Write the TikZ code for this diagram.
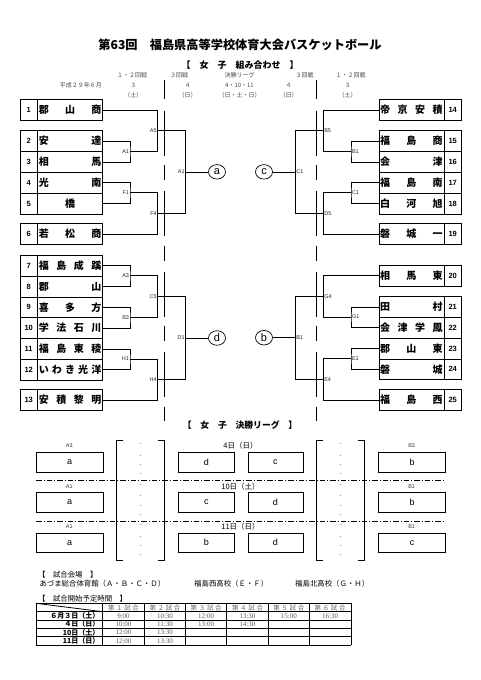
\documentclass[tikz,border=0pt]{standalone}
\usepackage{fontspec}
\newfontfamily\jp{Noto Sans CJK JP}
\newfontfamily\lat{Liberation Sans}
\newfontfamily\latser{Liberation Serif}
\usetikzlibrary{shapes.geometric}
\tikzset{
  ln/.style={line width=0.7pt},
  numcell/.style={draw, line width=0.7pt, anchor=north west, minimum width=16.7pt, minimum height=20.8pt, inner sep=0pt, font=\lat\bfseries\fontsize{7.5}{8}\selectfont},
  namecell/.style={draw, line width=0.7pt, anchor=north west, minimum width=65.3pt, minimum height=20.8pt, inner sep=0pt, font=\jp\bfseries\fontsize{10}{10}\selectfont},
  jl/.style={font=\lat\fontsize{5.5}{6}\selectfont, inner sep=0.8pt, text=black!85},
  circ/.style={ellipse, draw, line width=0.7pt, minimum width=17pt, minimum height=14.5pt, inner sep=0pt, font=\lat\fontsize{11}{11}\selectfont},
  hdr/.style={font=\jp\fontsize{6}{6}\selectfont, text=black!70, inner sep=0pt},
  lbox/.style={draw, line width=0.7pt, anchor=north west, minimum height=19.5pt, inner sep=0pt, font=\lat\fontsize{9}{9}\selectfont},
  llab/.style={font=\lat\fontsize{5.5}{6}\selectfont, text=black!80, inner sep=0pt},
  dlab/.style={font=\jp\fontsize{7.5}{8}\selectfont, inner sep=0pt},
  dsh/.style={font=\lat\fontsize{6}{6}\selectfont, text=black!75, inner sep=0pt},
  sepline/.style={line width=0.7pt, dash pattern=on 45pt off 9.5pt on 15pt off 11pt},
  ddline/.style={line width=0.7pt, dash pattern=on 5.5pt off 2pt on 1pt off 2pt},
  vt/.style={font=\jp\fontsize{7.4}{8}\selectfont, anchor=west, inner sep=0pt},
  th/.style={font=\jp\fontsize{6.5}{7}\selectfont, text=black!60, inner sep=0pt},
  td/.style={font=\latser\fontsize{7}{7}\selectfont, text=black!65, inner sep=0pt},
  trow/.style={font=\jp\bfseries\fontsize{7}{7}\selectfont, anchor=east, inner sep=0pt},
  tl/.style={line width=0.8pt},
}
\newcommand\teamL[4]{%
  \node[numcell] (n#1) at (20,#2) {#3};
  \node[namecell] (t#1) at (36.7,#2) {\hspace*{0.8pt}\makebox[62.5pt][s]{#4}};
}
\newcommand\teamR[4]{%
  \node[namecell] (t#1) at (378.7,#2) {\makebox[62.5pt][s]{#4}\hspace*{0.8pt}};
  \node[numcell] (n#1) at (444,#2) {#3};
}
\begin{document}
\begin{tikzpicture}[x=1pt,y=-1pt]
\fill[white] (0,0) rectangle (481,680);
\useasboundingbox (0,0) rectangle (481,680);

% ---------- titles ----------
\node[font=\jp\bfseries\fontsize{12.2}{12.5}\selectfont, inner sep=0pt] (title) at (240,44.5) {第63回　福島県高等学校体育大会バスケットボール};
\node[font=\jp\bfseries\fontsize{9}{9}\selectfont, inner sep=0pt] (sub1) at (240,65.3) {【　女　子　組み合わせ　】};

% ---------- header labels ----------
\node[hdr] (h0) at (80.8,85.3) {平成２９年６月};
\node[hdr] (h1a) at (132,75.3) {１・２回戦};
\node[hdr] (h1b) at (133.3,85.3) {３};
\node[hdr] (h1c) at (133.3,95.3) {（土）};
\node[hdr] (h2a) at (179.2,75.3) {３回戦};
\node[hdr] (h2b) at (187.5,85.3) {４};
\node[hdr] (h2c) at (187.5,95.3) {（日）};
\node[hdr] (h3a) at (239.5,75.3) {決勝リーグ};
\node[hdr] (h3b) at (239.5,85.3) {4・10・11};
\node[hdr] (h3c) at (239.5,95.3) {（日・土・日）};
\node[hdr] (h4a) at (304.5,75.3) {３回戦};
\node[hdr] (h4b) at (288.5,85.3) {４};
\node[hdr] (h4c) at (288.5,95.3) {（日）};
\node[hdr] (h5a) at (350.5,75.3) {１・２回戦};
\node[hdr] (h5b) at (347.5,85.3) {３};
\node[hdr] (h5c) at (347.5,95.3) {（土）};

% separators
\draw[ln] (164.3,80.3) -- (164.3,98.7);
\draw[ln] (316.7,80.3) -- (316.7,98.7);
\draw[sepline] (164.3,110.7) -- (164.3,421);
\draw[sepline] (316.7,110.7) -- (316.7,421);

% ---------- teams ----------
\teamL{1}{99.2}{1}{郡\hfill 山\hfill 商}
\teamL{2}{130.4}{2}{安\hfill 達}
\teamL{3}{151.2}{3}{相\hfill 馬}
\teamL{4}{172}{4}{光\hfill 南}
\teamL{5}{192.8}{5}{\hfill 橋\hfill}
\teamL{6}{223.4}{6}{若\hfill 松\hfill 商}
\teamL{7}{255}{7}{福\hfill 島\hfill 成\hfill 蹊}
\teamL{8}{275.8}{8}{郡\hfill 山}
\teamL{9}{296.6}{9}{喜\hfill 多\hfill 方}
\teamL{10}{317.4}{10}{学\hfill 法\hfill 石\hfill 川}
\teamL{11}{338.2}{11}{福\hfill 島\hfill 東\hfill 稜}
\teamL{12}{359}{12}{い\hfill わ\hfill き\hfill 光\hfill 洋}
\teamL{13}{389.4}{13}{安\hfill 積\hfill 黎\hfill 明}

\teamR{14}{99.2}{14}{帝\hfill 京\hfill 安\hfill 積}
\teamR{15}{130.4}{15}{福\hfill 島\hfill 商}
\teamR{16}{151.2}{16}{会\hfill 津}
\teamR{17}{172}{17}{福\hfill 島\hfill 南}
\teamR{18}{192.8}{18}{白\hfill 河\hfill 旭}
\teamR{19}{223.4}{19}{磐\hfill 城\hfill 一}
\teamR{20}{265}{20}{相\hfill 馬\hfill 東}
\teamR{21}{296.2}{21}{田\hfill 村}
\teamR{22}{317}{22}{会\hfill 津\hfill 学\hfill 鳳}
\teamR{23}{337.8}{23}{郡\hfill 山\hfill 東}
\teamR{24}{358.6}{24}{磐\hfill 城}
\teamR{25}{389.4}{25}{福\hfill 島\hfill 西}

% ---------- left top bracket ----------
\coordinate (jA1) at (130,151.2);
\coordinate (jF1) at (130,192.8);
\coordinate (jA5) at (157.7,130.4);
\coordinate (jF4) at (157.7,213.3);
\coordinate (jA1c) at (185.7,171.85);
\draw[ln] (t2.east) -| (jA1) |- (t3.east);
\draw[ln] (t4.east) -| (jF1) |- (t5.east);
\draw[ln] (t1.east) -| (jA5) |- (jA1);
\draw[ln] (jF1) -| (jF4) |- (t6.east);
\draw[ln] (jA5) -| (jA1c) |- (jF4);
\node[circ] (ca) at (217,171.85) {a};
\draw[ln] (jA1c) -- (ca);
\node[jl, anchor=east] at (jA1) {A1};
\node[jl, anchor=east] at (jF1) {F1};
\node[jl, anchor=east] at (jA5) {A5};
\node[jl, anchor=east] at (jF4) {F4};
\node[jl, anchor=east] at (jA1c) {A1};

% ---------- left bottom bracket ----------
\coordinate (jA3) at (130,275.8);
\coordinate (jB3) at (130,317.4);
\coordinate (jH1) at (130,359);
\coordinate (jC5) at (157.7,296.6);
\coordinate (jH4) at (157.7,379.4);
\coordinate (jD1) at (185.7,338);
\draw[ln] (t7.east) -| (jA3) |- (t8.east);
\draw[ln] (t9.east) -| (jB3) |- (t10.east);
\draw[ln] (t11.east) -| (jH1) |- (t12.east);
\draw[ln] (jA3) -| (jC5) |- (jB3);
\draw[ln] (jH1) -| (jH4) |- (t13.east);
\draw[ln] (jC5) -| (jD1) |- (jH4);
\node[circ] (cd) at (217,338) {d};
\draw[ln] (jD1) -- (cd);
\node[jl, anchor=east] at (jA3) {A3};
\node[jl, anchor=east] at (jB3) {B3};
\node[jl, anchor=east] at (jH1) {H1};
\node[jl, anchor=east] at (jC5) {C5};
\node[jl, anchor=east] at (jH4) {H4};
\node[jl, anchor=east] at (jD1) {D1};

% ---------- right top bracket ----------
\coordinate (jB1) at (351,151.2);
\coordinate (jC1) at (351,192.8);
\coordinate (jB5) at (323.3,130.4);
\coordinate (jD5) at (323.3,213.3);
\coordinate (jC1c) at (295.3,171.85);
\draw[ln] (t15.west) -| (jB1) |- (t16.west);
\draw[ln] (t17.west) -| (jC1) |- (t18.west);
\draw[ln] (t14.west) -| (jB5) |- (jB1);
\draw[ln] (jC1) -| (jD5) |- (t19.west);
\draw[ln] (jB5) -| (jC1c) |- (jD5);
\node[circ] (cc) at (264,171.85) {c};
\draw[ln] (jC1c) -- (cc);
\node[jl, anchor=west] at (jB1) {B1};
\node[jl, anchor=west] at (jC1) {C1};
\node[jl, anchor=west] at (jB5) {B5};
\node[jl, anchor=west] at (jD5) {D5};
\node[jl, anchor=west] at (jC1c) {C1};

% ---------- right bottom bracket ----------
\coordinate (jG1) at (351,317);
\coordinate (jE1) at (351,358.6);
\coordinate (jG4) at (323.3,296.2);
\coordinate (jE4) at (323.3,379.2);
\coordinate (jB1c) at (295.3,337.7);
\draw[ln] (t21.west) -| (jG1) |- (t22.west);
\draw[ln] (t23.west) -| (jE1) |- (t24.west);
\draw[ln] (t20.west) -| (jG4) |- (jG1);
\draw[ln] (jE1) -| (jE4) |- (t25.west);
\draw[ln] (jG4) -| (jB1c) |- (jE4);
\node[circ] (cb) at (264,337.7) {b};
\draw[ln] (jB1c) -- (cb);
\node[jl, anchor=west] at (jG1) {G1};
\node[jl, anchor=west] at (jE1) {E1};
\node[jl, anchor=west] at (jG4) {G4};
\node[jl, anchor=west] at (jE4) {E4};
\node[jl, anchor=west] at (jB1c) {B1};

% ---------- final league ----------
\node[font=\jp\bfseries\fontsize{8.8}{9}\selectfont, inner sep=0pt] (sub2) at (240,425) {【　女　子　決勝リーグ　】};

\foreach \b/\la/\ra/\dd/\ca/\cb/\cc/\cd in {0/A3/B3/4日（日）/a/d/c/b, 1/A1/B1/10日（土）/a/c/d/b, 2/A1/B1/11日（日）/a/b/d/c}{
  \pgfmathsetmacro\yt{452+40.3*\b}
  \node[lbox, minimum width=66.7pt] (L\b) at (36,\yt) {\ca};
  \node[lbox, minimum width=55.2pt] (Ma\b) at (178.3,\yt) {\cb};
  \node[lbox, minimum width=55.2pt] (Mb\b) at (247.5,\yt) {\cc};
  \node[lbox, minimum width=66.7pt] (R\b) at (378.3,\yt) {\cd};
  \node[llab] (LL\b) at (69.35,{\yt-6}) {\la};
  \node[llab] (RL\b) at (411.65,{\yt-6}) {\ra};
  \node[dlab] (DL\b) at (240.5,{\yt-6}) {\dd};
  \foreach \o in {0,11.5,21,30}{
    \node[dsh] at (140.5,{\yt-7+\o}) {-};
    \node[dsh] at (340.5,{\yt-7+\o}) {-};
  }
}
\draw[ddline] (36,480.7) -- (445,480.7);
\draw[ddline] (36,521) -- (445,521);
% brackets
\draw[ln] (123.3,440.7) -- (116.7,440.7) -- (116.7,560) -- (123.3,560);
\draw[ln] (158,440.7) -- (164.3,440.7) -- (164.3,560) -- (158,560);
\draw[ln] (323,440.7) -- (316.7,440.7) -- (316.7,560) -- (323,560);
\draw[ln] (358,440.7) -- (364.3,440.7) -- (364.3,560) -- (358,560);

% ---------- venues ----------
\node[vt] (v0) at (38,575) {【　試合会場　】};
\node[vt] (v1) at (39.3,583.3) {あづま総合体育館（Ａ・Ｂ・Ｃ・Ｄ）};
\node[vt] (v2) at (194,583.3) {福島西高校（Ｅ・Ｆ）};
\node[vt] (v3) at (295,583.3) {福島北高校（Ｇ・Ｈ）};
\node[vt] (v4) at (38,599) {【　試合開始予定時間　】};

% ---------- time table ----------
\foreach \yy in {603.3,611.7,620,628.3,636.7,645} \draw[tl] (36,\yy) -- (351,\yy);
\foreach \xx in {36,102.7,144.3,185.7,226.7,268.3,309.3,351} \draw[tl] (\xx,603.3) -- (\xx,645);
\draw[tl] (36,603.3) -- (102.7,611.7);
\foreach \k/\xc in {１/123.5,２/165,３/206.2,４/247.5,５/288.8,６/330.15}{
  \node[th] at (\xc,607.6) {\makebox[31pt][s]{第\hfill\k\hfill 試\hfill 合}};
}
\node[trow] at (99.5,615.9) {６月３日（土）};
\node[trow] at (99.5,624.2) {４日（日）};
\node[trow] at (99.5,632.5) {10日（土）};
\node[trow] at (99.5,640.9) {11日（日）};
\foreach \xc/\t in {123.5/9:00,165/10:30,206.2/12:00,247.5/13:30,288.8/15:00,330.15/16:30}
  \node[td] at (\xc,615.9) {\t};
\foreach \xc/\t in {123.5/10:00,165/11:30,206.2/13:00,247.5/14:30}
  \node[td] at (\xc,624.2) {\t};
\foreach \xc/\t in {123.5/12:00,165/13:30}
  \node[td] at (\xc,632.5) {\t};
\foreach \xc/\t in {123.5/12:00,165/13:30}
  \node[td] at (\xc,640.9) {\t};
\end{tikzpicture}
\end{document}
